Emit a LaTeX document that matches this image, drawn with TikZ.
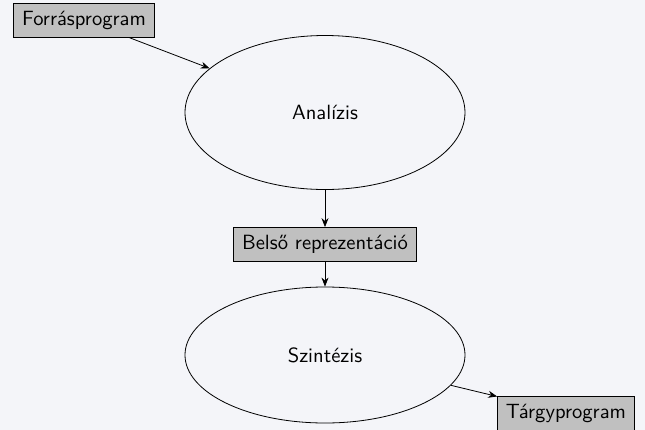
\documentclass[tikz,border=0pt]{standalone}
\usetikzlibrary{shapes.geometric,arrows.meta}
\definecolor{bgc}{RGB}{244,245,249}
\definecolor{boxgray}{RGB}{192,192,192}
\begin{document}
\begin{tikzpicture}[x=0.5pt,y=-0.5pt,
  font=\sffamily\fontsize{10.3}{12.5}\selectfont,
  databox/.style={draw, fill=boxgray, inner xsep=4.2pt, inner ysep=0pt, minimum height=17pt},
  phase/.style={draw, ellipse, inner sep=0pt, minimum width=140pt},
  flow/.style={-{Stealth[length=4.5pt,width=3.5pt]}}]
  % canvas
  \fill[bgc] (0,0) rectangle (645,430);
  \useasboundingbox (0,0) rectangle (645,430);
  % nodes
  \node[databox] (src) at (84,20.3) {Forrásprogram};
  \node[phase, minimum height=77pt] (ana) at (325,112.5) {Analízis};
  \node[databox] (ir) at (325,244.5) {Belső reprezentáció};
  \node[phase, minimum height=68pt] (syn) at (325,355) {Szintézis};
  \node[databox] (dst) at (566,413) {Tárgyprogram};
  % connectors
  \draw[flow] (src) -- (ana);
  \draw[flow] (ana) -- (ir);
  \draw[flow] (ir) -- (syn);
  \draw[flow] (syn) -- (dst);
\end{tikzpicture}
\end{document}
